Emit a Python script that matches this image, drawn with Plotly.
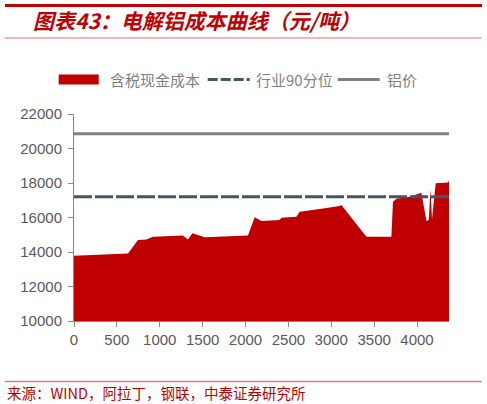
import plotly.graph_objects as go

# cost curve: cumulative capacity vs cash cost incl. tax
cost_x = [0, 630, 746, 844, 921, 1271, 1329, 1381, 1524, 2029, 2107, 2134, 2185, 2399, 2418,
          2594, 2632, 2865, 3098, 3118, 3410, 3701, 3720, 3760, 3915, 4051, 4110, 4137, 4157,
          4175, 4218, 4361, 4373]
cost_y = [13780, 13920, 14690, 14730, 14880, 14960, 14730, 15080, 14850, 14960, 16010, 15950,
          15800, 15850, 15990, 16050, 16340, 16490, 16670, 16730, 14880, 14880, 16920, 17080,
          17210, 17440, 15800, 15850, 17640, 15900, 17990, 18030, 18130]
line_x = [0, 4373]
p90_y = [17200, 17200]
price_y = [20850, 20850]

x_ticks = [0, 500, 1000, 1500, 2000, 2500, 3000, 3500, 4000]
y_ticks = [10000, 12000, 14000, 16000, 18000, 20000, 22000]

W, H = 487, 404
L, R, T, B = 74.3, 449.3, 114.3, 320.7


def px(x):
    return (x - L) / (R - L)


def py(y):
    return (B - y) / (B - T)


RED = '#C00000'
TXT = '#595959'
CJK = 'Noto Sans CJK SC'

fig = go.Figure()
fig.add_trace(go.Scatter(x=cost_x, y=cost_y, name='含税现金成本', mode='lines',
                         line=dict(width=0, color=RED), fill='tozeroy', fillcolor=RED))
fig.add_trace(go.Scatter(x=line_x, y=p90_y, name='行业90分位', mode='lines',
                         line=dict(width=3, color='#44546A', dash='18px,3px')))
fig.add_trace(go.Scatter(x=line_x, y=price_y, name='铝价', mode='lines',
                         line=dict(width=3, color='#808080')))

shapes = [
    # title rule (thin, under the title)
    dict(type='line', xref='paper', yref='paper', x0=px(5), x1=px(482), y0=py(38.5), y1=py(38.5),
         line=dict(color='#E07070', width=1)),
    # footer rule
    dict(type='line', xref='paper', yref='paper', x0=px(5), x1=px(482), y0=py(381), y1=py(381),
         line=dict(color='#E57373', width=1.5)),
    # legend symbols
    dict(type='rect', xref='paper', yref='paper', x0=px(59), x1=px(99), y0=py(85), y1=py(75),
         fillcolor=RED, line=dict(width=0)),
    dict(type='line', xref='paper', yref='paper', x0=px(208), x1=px(250), y0=py(80), y1=py(80),
         line=dict(color='#44546A', width=3, dash='10px,3px')),
    dict(type='line', xref='paper', yref='paper', x0=px(338), x1=px(380), y0=py(80), y1=py(80),
         line=dict(color='#808080', width=3)),
]

annotations = [
    # thick rule above the title, as a filled box
    dict(text=' ', x=px(5), y=py(6), width=477, height=3, bgcolor=RED, borderpad=0,
         borderwidth=0, font=dict(size=1)),
    dict(text='<b><i>图表43：电解铝成本曲线（元/吨）</i></b>', x=px(31), y=py(21),
         font=dict(family=CJK, size=21, color=RED)),
    dict(text='来源：WIND，阿拉丁，钢联，中泰证券研究所', x=px(5), y=py(392),
         font=dict(family=CJK, size=14.5, color=RED)),
    dict(text='含税现金成本', x=px(108), y=py(80), font=dict(family=CJK, size=15, color='#7F7F7F')),
    dict(text='行业90分位', x=px(254), y=py(80), font=dict(family=CJK, size=15, color='#7F7F7F')),
    dict(text='铝价', x=px(385), y=py(80), font=dict(family=CJK, size=15, color='#7F7F7F')),
]
for a in annotations:
    a.update(xref='paper', yref='paper', xanchor='left', yanchor='middle', showarrow=False)

axis_common = dict(showgrid=False, zeroline=False, showline=True, linecolor='#898989', linewidth=1,
                   ticks='outside', ticklen=5, tickcolor='#898989', tickformat='d',
                   tickfont=dict(family='Liberation Sans', size=15, color=TXT))

fig.update_layout(
    width=W, height=H,
    margin=dict(l=L, r=W - R, t=T, b=H - B),
    paper_bgcolor='white', plot_bgcolor='white',
    showlegend=False,
    xaxis=dict(range=[0, 4373], tickvals=x_ticks, **axis_common),
    yaxis=dict(range=[10000, 22000], tickvals=y_ticks, ticklabelstandoff=3, **axis_common),
    shapes=shapes,
    annotations=annotations,
)

fig.write_html("out.html", config={'displayModeBar': False},
               post_script="document.body.style.margin='0';")
